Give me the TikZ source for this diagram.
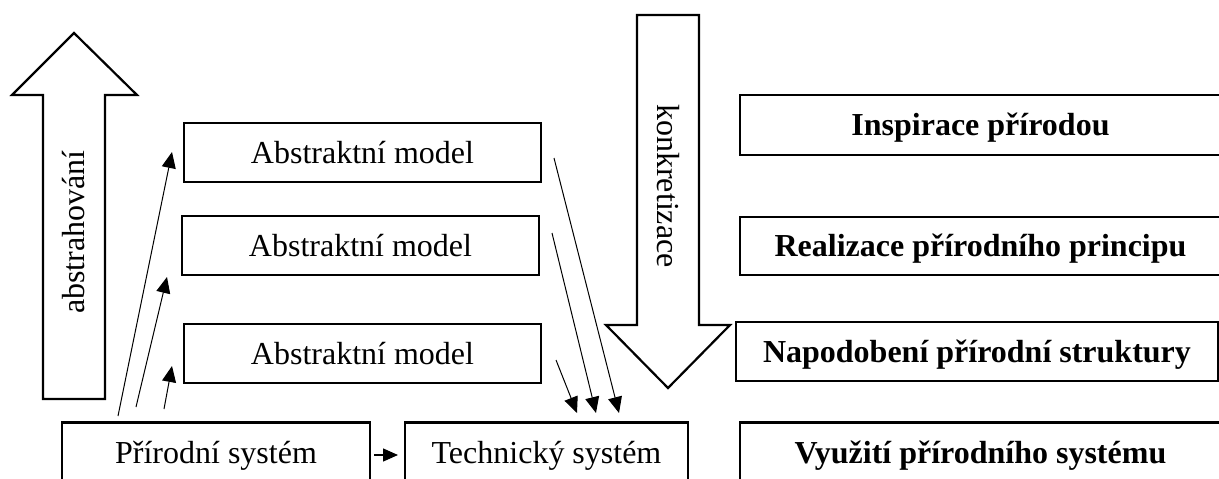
\documentclass[tikz,border=0pt]{standalone}
\usepackage{fontspec}
\setmainfont{Liberation Serif}
\usetikzlibrary{arrows.meta,calc}
\begin{document}
\begin{tikzpicture}[x=1pt,y=-1pt,
  box/.style={draw,line width=2.2pt,rectangle,inner sep=0pt,text height=21pt,text depth=0pt,font=\fontsize{32}{38}\selectfont},
  boldbox/.style={box,font=\fontsize{32}{38}\selectfont\bfseries},
  conn/.style={line width=1pt,-{Triangle[length=16pt,width=14pt]}},
  blockarrow/.style={draw,line width=2.2pt,line join=miter,fill=white},
  vlabel/.style={inner sep=0pt,text height=21pt,text depth=0pt,font=\fontsize{32}{38}\selectfont}
]
\useasboundingbox (0,0) rectangle (1219,479);
\clip (0,0) rectangle (1219,479);
% block arrows
\draw[blockarrow] (43,399) -- (43,95) -- (12,95) -- (74,33) -- (137,95) -- (105,95) -- (105,399) -- cycle;
\node[vlabel,rotate=90] (abs) at (74,232) {abstrahování};
\draw[blockarrow] (637,15) -- (699,15) -- (699,325) -- (730,325) -- (668,388) -- (606,325) -- (637,325) -- cycle;
\node[vlabel,rotate=-90] (konk) at (668,186) {konkretizace};
% boxes
\node[box,minimum width=357pt,minimum height=59pt] (am1) at (362.5,152.5) {Abstraktní model};
\node[box,minimum width=357pt,minimum height=59pt] (am2) at (360.5,245.5) {Abstraktní model};
\node[box,minimum width=357pt,minimum height=59pt] (am3) at (362.5,353.5) {Abstraktní model};
\node[box,minimum width=308pt,minimum height=60pt] (ps) at (216,452.5) {Přírodní systém};
\node[box,minimum width=283pt,minimum height=60pt] (ts) at (546.5,452.5) {Technický systém};
\node[boldbox,minimum width=481pt,minimum height=60pt] (ip) at (980.5,125) {Inspirace přírodou};
\node[boldbox,minimum width=481pt,minimum height=58pt] (rp) at (980.5,246) {Realizace přírodního principu};
\node[boldbox,minimum width=482pt,minimum height=59pt] (ns) at (977,351.5) {Napodobení přírodní struktury};
\node[boldbox,minimum width=481pt,minimum height=60pt] (vs) at (980.5,452.5) {Využití přírodního systému};
% connector end points
\coordinate (u1s) at (118,416); \coordinate (u1e) at (172,152);
\coordinate (u2s) at (136,407); \coordinate (u2e) at (167,277);
\coordinate (u3s) at (164,409); \coordinate (u3e) at (172,366);
\coordinate (d1s) at (554,158); \coordinate (d1e) at (619,413);
\coordinate (d2s) at (552,233); \coordinate (d2e) at (596,413);
\coordinate (d3s) at (556,360); \coordinate (d3e) at (577,413);
\coordinate (hs) at (374,455); \coordinate (he) at (398,455);
\draw[conn] (u1s) -- (u1e);
\draw[conn] (u2s) -- (u2e);
\draw[conn] (u3s) -- (u3e);
\draw[conn] (d1s) -- (d1e);
\draw[conn] (d2s) -- (d2e);
\draw[conn] (d3s) -- (d3e);
\draw[line width=1.4pt,-{Triangle[length=15pt,width=13pt]}] (hs) -- (he);
\end{tikzpicture}
\end{document}
